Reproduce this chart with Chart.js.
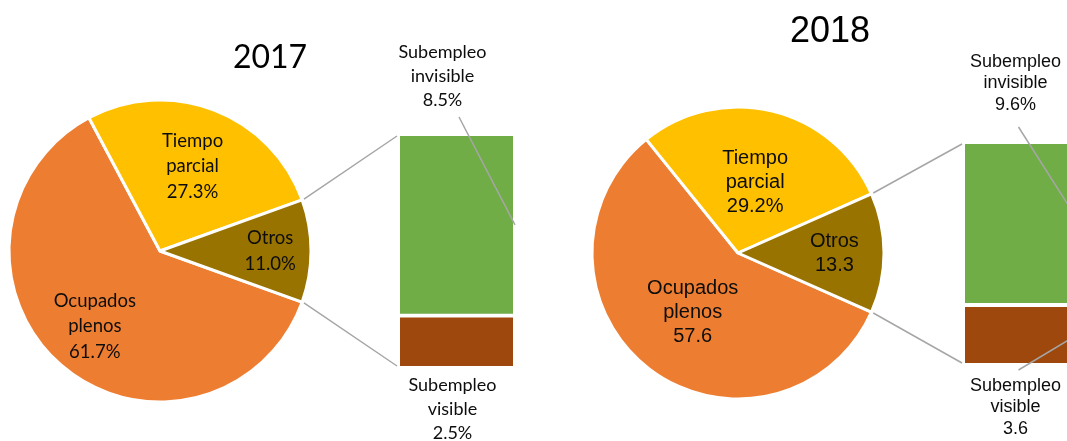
<!DOCTYPE html>
<html>
<head>
<meta charset="utf-8">
<script src="https://cdn.jsdelivr.net/npm/chart.js@4.4.0/dist/chart.umd.min.js"></script>
<style>
  html, body { margin: 0; padding: 0; background: #fff; }
  body { width: 1067px; height: 441px; overflow: hidden; position: relative; }
  .year { position: absolute; top: 0; height: 441px; }
  .year canvas { position: absolute; left: 0; top: 0; }
</style>
</head>
<body>
<div class="year" style="left:0;width:540px;">
  <canvas id="pie2017" width="540" height="441"></canvas>
  <canvas id="bar2017" width="540" height="441"></canvas>
</div>
<div class="year" style="left:540px;width:560px;">
  <canvas id="pie2018" width="560" height="441"></canvas>
  <canvas id="bar2018" width="560" height="441"></canvas>
</div>
<script>
// Datos
const pieCategories = [['Ocupados', 'plenos'], ['Tiempo', 'parcial'], ['Otros']];
const pieValues2017 = [61.7, 27.3, 11.0];
const pieValues2018 = [57.6, 29.2, 13.3];
const pieSuffix2017 = ['%', '%', '%'];
const pieSuffix2018 = ['', '%', ''];

const barCategories = [['Subempleo', 'visible'], ['Subempleo', 'invisible']];
const barValues2017 = [2.5, 8.5];
const barValues2018 = [3.6, 9.6];
const barSuffix2017 = ['%', '%'];
const barSuffix2018 = ['', '%'];

const pieColors = ['#ED7D31', '#FFC000', '#997300'];
const barColors = ['#9E480E', '#70AD47'];
const lineColor = '#A6A6A6';
const textColor = '#0d0d0d';

const years = [
    {
        id: '2017', width: 540,
        pieValues: pieValues2017, pieSuffix: pieSuffix2017,
        barValues: barValues2017, barSuffix: barSuffix2017,
        font: 'Lato', titleSize: 32, labelSize: 18, pieLabelSize: 18.5, pieLineH: 25.5, barLineH: 24,
        center: [160, 251], radius: 151,
        bar: { left: 400, right: 513, top: 136, bottom: 366 },
        title: [270, 58],
        pieLabelR: [0.66, 0.6, 0.73],
        topLabel: [-14, -36], bottomLabel: [-4, 19],
        topLeader: [2.5, -19], bottomLeader: null
    },
    {
        id: '2018', width: 560,
        pieValues: pieValues2018, pieSuffix: pieSuffix2018,
        barValues: barValues2018, barSuffix: barSuffix2018,
        font: '"Liberation Sans", Arial', titleSize: 36, labelSize: 18, pieLabelSize: 20, pieLineH: 24, barLineH: 21.5,
        center: [198, 253], radius: 146,
        bar: { left: 425, right: 538, top: 144, bottom: 363 },
        title: [290, 32],
        pieLabelR: [0.51, 0.5, 0.66],
        topLabel: [-6, -39], bottomLabel: [-6, 23],
        topLeader: [-3, -17], bottomLeader: [-3, 7]
    }
];

function drawLines(ctx, lines, x, yMid, lh) {
    const y0 = yMid - (lines.length - 1) * lh / 2;
    lines.forEach((t, i) => ctx.fillText(t, x, y0 + i * lh));
}

function makePie(cfg) {
    const total = cfg.pieValues.reduce((a, b) => a + b, 0);
    const otrosDeg = cfg.pieValues[2] / total * 360;
    const [cx, cy] = cfg.center;
    const half = 150;

    const labelPlugin = {
        id: 'pieLabels' + cfg.id,
        afterDatasetsDraw(chart) {
            const ctx = chart.ctx;
            ctx.save();
            ctx.font = `${cfg.pieLabelSize}px ${cfg.font}`;
            ctx.fillStyle = textColor;
            ctx.textAlign = 'center';
            ctx.textBaseline = 'middle';
            chart.getDatasetMeta(0).data.forEach((arc, i) => {
                const p = arc.getProps(['x', 'y', 'startAngle', 'endAngle', 'outerRadius'], true);
                const mid = (p.startAngle + p.endAngle) / 2;
                const r = p.outerRadius * cfg.pieLabelR[i];
                const lines = [...pieCategories[i], cfg.pieValues[i].toFixed(1) + cfg.pieSuffix[i]];
                drawLines(ctx, lines, p.x + Math.cos(mid) * r, p.y + Math.sin(mid) * r, cfg.pieLineH);
            });
            ctx.restore();
        }
    };

    return new Chart(document.getElementById('pie' + cfg.id), {
        type: 'pie',
        data: {
            labels: pieCategories.map(c => c.join(' ')),
            datasets: [{
                data: cfg.pieValues,
                backgroundColor: pieColors,
                borderColor: '#fff',
                borderWidth: 3
            }]
        },
        options: {
            responsive: false,
            animation: false,
            radius: cfg.radius,
            rotation: 90 + otrosDeg / 2,
            layout: {
                padding: {
                    left: cx - half, right: cfg.width - cx - half,
                    top: cy - half, bottom: 441 - cy - half
                }
            },
            plugins: { legend: { display: false }, tooltip: { enabled: false } }
        },
        plugins: [labelPlugin]
    });
}

function makeBar(cfg, pieChart) {
    const sum = cfg.barValues.reduce((a, b) => a + b, 0);
    const b = cfg.bar;

    const overlayPlugin = {
        id: 'overlay' + cfg.id,
        afterDraw(chart) {
            const ctx = chart.ctx;
            const bottomBar = chart.getDatasetMeta(0).data[0].getProps(['x', 'y', 'base', 'width'], true);
            const topBar = chart.getDatasetMeta(1).data[0].getProps(['x', 'y', 'base', 'width'], true);
            const barLeft = topBar.x - topBar.width / 2;
            const barRight = topBar.x + topBar.width / 2;
            const arc = pieChart.getDatasetMeta(0).data[2].getProps(['x', 'y', 'startAngle', 'endAngle', 'outerRadius'], true);
            const R = arc.outerRadius + 2;

            ctx.save();
            ctx.strokeStyle = lineColor;
            ctx.lineWidth = 1.5;
            ctx.beginPath();
            ctx.moveTo(arc.x + Math.cos(arc.startAngle) * R, arc.y + Math.sin(arc.startAngle) * R);
            ctx.lineTo(barLeft - 3, topBar.y);
            ctx.moveTo(arc.x + Math.cos(arc.endAngle) * R, arc.y + Math.sin(arc.endAngle) * R);
            ctx.lineTo(barLeft - 3, bottomBar.base);
            ctx.stroke();

            // lineas guia
            ctx.beginPath();
            ctx.moveTo(topBar.x + cfg.topLeader[0], topBar.y + cfg.topLeader[1]);
            ctx.lineTo(barRight + 2, (topBar.y + topBar.base) / 2);
            if (cfg.bottomLeader) {
                ctx.moveTo(bottomBar.x + cfg.bottomLeader[0], bottomBar.base + cfg.bottomLeader[1]);
                ctx.lineTo(barRight + 2, (bottomBar.y + bottomBar.base) / 2);
            }
            ctx.stroke();

            ctx.textAlign = 'center';
            ctx.textBaseline = 'middle';
            ctx.font = `${cfg.titleSize}px ${cfg.font}`;
            ctx.fillStyle = '#000';
            ctx.fillText(cfg.id, cfg.title[0], cfg.title[1]);

            ctx.fillStyle = textColor;
            ctx.font = `${cfg.labelSize}px ${cfg.font}`;
            const lh = cfg.barLineH;
            const topLines = [...barCategories[1], cfg.barValues[1].toFixed(1) + cfg.barSuffix[1]];
            drawLines(ctx, topLines, topBar.x + cfg.topLabel[0], topBar.y + cfg.topLabel[1] - lh, lh);
            const botLines = [...barCategories[0], cfg.barValues[0].toFixed(1) + cfg.barSuffix[0]];
            drawLines(ctx, botLines, bottomBar.x + cfg.bottomLabel[0], bottomBar.base + cfg.bottomLabel[1] + lh, lh);
            ctx.restore();
        }
    };

    return new Chart(document.getElementById('bar' + cfg.id), {
        type: 'bar',
        data: {
            labels: [''],
            datasets: cfg.barValues.map((v, i) => ({
                label: barCategories[i].join(' '),
                data: [v],
                backgroundColor: barColors[i],
                borderColor: '#fff',
                borderWidth: i === 0 ? { top: 4, left: 0, right: 0, bottom: 0 } : 0,
                borderSkipped: false,
                barPercentage: 1,
                categoryPercentage: 1
            }))
        },
        options: {
            responsive: false,
            animation: false,
            layout: {
                padding: { left: b.left, right: cfg.width - b.right, top: b.top, bottom: 441 - b.bottom }
            },
            scales: {
                x: { display: false, stacked: true },
                y: { display: false, stacked: true, min: 0, max: sum }
            },
            plugins: { legend: { display: false }, tooltip: { enabled: false } }
        },
        plugins: [overlayPlugin]
    });
}

years.forEach(cfg => {
    const pie = makePie(cfg);
    makeBar(cfg, pie);
});
</script>
</body>
</html>
